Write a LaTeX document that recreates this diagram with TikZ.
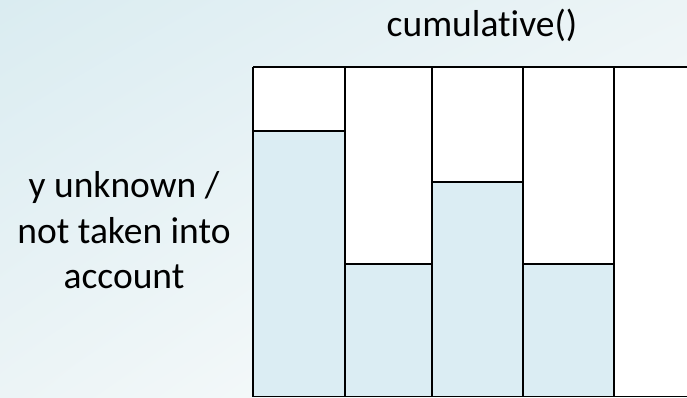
\documentclass[tikz,border=0pt]{standalone}
\usepackage{fontspec}
\setmainfont{Carlito}[Ligatures=NoCommon]
\usepackage{tikz}
\usetikzlibrary{positioning,shadings}
\definecolor{barfill}{HTML}{DBEDF3}
\definecolor{bgblue}{HTML}{DAECF1}
\definecolor{bgpale}{HTML}{ECF4F6}

\begin{document}
\begin{tikzpicture}[x=1pt,y=-1pt,
  barline/.style={draw=black,line width=1.8pt},
  labeltext/.style={font=\fontsize{37.5}{45}\selectfont,align=center,inner sep=0pt,anchor=base}]
  \useasboundingbox (0,0) rectangle (687,398);
  \shade[upper left=bgblue,upper right=bgpale,lower left=bgpale,lower right=white] (0,0) rectangle (687,398);
  \begin{scope}
    \clip (0,0) rectangle (687,398);
    \fill[white] (253,67) rectangle (700,396.5);
    \foreach \xa/\xb/\yt in {253/345/131,345/432/264,432/523/182,523/614/264}{
      \fill[barfill] (\xa,\yt) rectangle (\xb,396.5);
      \draw[barline] (\xa,\yt)--(\xb,\yt);
      \draw[barline] (\xa,67)--(\xa,396.5);
    }
    \draw[barline] (614,67)--(614,396.5);
    \draw[barline] (253,67)--(700,67);
    \draw[barline] (253,396.5)--(700,396.5);
  \end{scope}
  \node[labeltext] (title) at (482,37) {cumulative()};
  \node[labeltext] (ylabel) at (124,197) {y unknown /};
  \node[labeltext] (ylabel2) at (124,243) {not taken into};
  \node[labeltext] (ylabel3) at (124,288) {account};
\end{tikzpicture}
\end{document}
